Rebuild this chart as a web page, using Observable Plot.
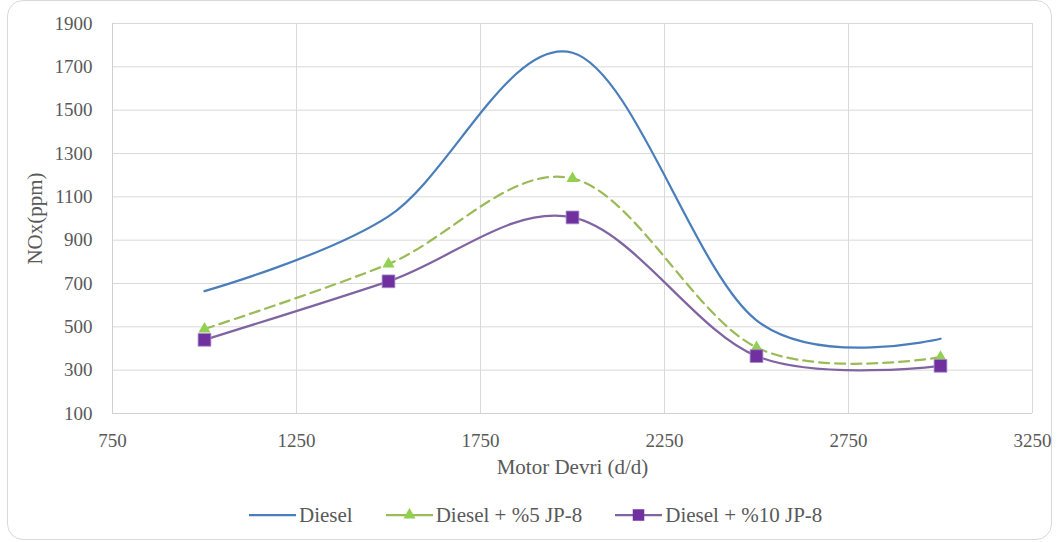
<!DOCTYPE html>
<html>
<head>
<meta charset="utf-8">
<script src="https://cdn.jsdelivr.net/npm/d3@7"></script>
<script src="https://cdn.jsdelivr.net/npm/@observablehq/plot@0.6"></script>
<style>
  html, body { margin: 0; padding: 0; background: #fff; }
  #wrap { position: relative; width: 1059px; height: 542px; overflow: hidden; font-family: "Liberation Serif", Tinos, "Times New Roman", "DejaVu Serif", serif; }
  #frame { position: absolute; left: 7px; top: 0px; border: 1.5px solid #d9d9d9; border-radius: 16px; box-sizing: border-box; width: 1045px; height: 540px; }
  #chart { position: absolute; left: 0; top: 0; }
  #chart svg text { font-family: "Liberation Serif", Tinos, "Times New Roman", "DejaVu Serif", serif; }
  #legend { position: absolute; left: 249px; top: 502px; height: 26px; display: flex; align-items: center; gap: 33px; font-size: 21px; color: #595959; white-space: nowrap; font-family: "Liberation Serif", Tinos, "Times New Roman", "DejaVu Serif", serif; }
  .item { display: flex; align-items: center; gap: 3px; }
  .item svg { display: block; }
</style>
</head>
<body>
<div id="wrap">
  <div id="frame"></div>
  <div id="chart"></div>
  <div id="legend"></div>
</div>
<script>
// Data
const rpm = [1000, 1500, 2000, 2500, 3000];
const diesel = [665, 1010, 1765, 530, 445];
const jp5 = [490, 790, 1185, 405, 360];
const jp10 = [440, 710, 1005, 365, 320];
const seriesNames = ["Diesel", "Diesel + %5 JP-8", "Diesel + %10 JP-8"];
const xTicks = [750, 1250, 1750, 2250, 2750, 3250];
const yTicks = [100, 300, 500, 700, 900, 1100, 1300, 1500, 1700, 1900];

const colors = { line0: "#4a7ebb", line1: "#9bbb59", line2: "#8064a2", mark1: "#92d050", mark2: "#7030a0" };
const serif = "'Liberation Serif', Tinos, 'Times New Roman', 'DejaVu Serif', serif";

const d0 = rpm.map((x, i) => ({ x, y: diesel[i] }));
const d1 = rpm.map((x, i) => ({ x, y: jp5[i] }));
const d2 = rpm.map((x, i) => ({ x, y: jp10[i] }));

const plot = Plot.plot({
  width: 1059,
  height: 490,
  marginLeft: 112,
  marginRight: 27,
  marginTop: 23,
  marginBottom: 77,
  style: { fontFamily: serif, fontSize: "19px", color: "#595959", background: "transparent", overflow: "visible" },
  x: { domain: [750, 3250] },
  y: { domain: [100, 1900] },
  marks: [
    Plot.gridX(xTicks, { stroke: "#d9d9d9", strokeOpacity: 1, strokeWidth: 1 }),
    Plot.gridY(yTicks, { stroke: "#d9d9d9", strokeOpacity: 1, strokeWidth: 1 }),
    Plot.ruleX([750], { stroke: "#d0d0d0", strokeWidth: 1 }),
    Plot.ruleY([100], { stroke: "#d0d0d0", strokeWidth: 1 }),
    Plot.axisX({ ticks: xTicks, tickFormat: d => String(d), tickSize: 0, tickPadding: 20, label: null, fill: "#595959", fontFamily: serif }),
    Plot.axisY({ ticks: yTicks, tickFormat: d => String(d), tickSize: 0, tickPadding: 20, label: null, fill: "#595959", fontFamily: serif }),
    Plot.text(["NOx(ppm)"], { frameAnchor: "left", textAnchor: "middle", lineAnchor: "middle", dx: -77, rotate: -90, fontSize: 21, fill: "#595959", fontFamily: serif }),
    Plot.text(["Motor Devri (d/d)"], { frameAnchor: "bottom", textAnchor: "middle", lineAnchor: "middle", dy: 54, fontSize: 21, fill: "#595959", fontFamily: serif }),
    Plot.line(d0, { x: "x", y: "y", curve: "cardinal", stroke: colors.line0, strokeWidth: 2.25 }),
    Plot.line(d1, { x: "x", y: "y", curve: "cardinal", stroke: colors.line1, strokeWidth: 2.25, strokeDasharray: "10,6" }),
    Plot.line(d2, { x: "x", y: "y", curve: "cardinal", stroke: colors.line2, strokeWidth: 2.25 }),
    Plot.dot(d1, { x: "x", y: "y", symbol: "triangle", r: 4.5, fill: colors.mark1, stroke: "none" }),
    Plot.dot(d2, { x: "x", y: "y", symbol: "square", r: 7.2, fill: colors.mark2, stroke: "#a58bc7", strokeWidth: 0.8 })
  ]
});
document.getElementById("chart").appendChild(plot);

// Legend
const legend = document.getElementById("legend");
const legendSpecs = [
  { name: seriesNames[0], line: colors.line0, marker: null },
  { name: seriesNames[1], line: colors.line1, marker: "triangle", fill: colors.mark1 },
  { name: seriesNames[2], line: colors.line2, marker: "square", fill: colors.mark2 }
];
for (const s of legendSpecs) {
  const item = document.createElement("div");
  item.className = "item";
  const ns = "http://www.w3.org/2000/svg";
  const svg = document.createElementNS(ns, "svg");
  svg.setAttribute("width", 47);
  svg.setAttribute("height", 16);
  const ln = document.createElementNS(ns, "line");
  ln.setAttribute("x1", 0); ln.setAttribute("x2", 47);
  ln.setAttribute("y1", 8); ln.setAttribute("y2", 8);
  ln.setAttribute("stroke", s.line); ln.setAttribute("stroke-width", 2.25);
  svg.appendChild(ln);
  if (s.marker) {
    const p = document.createElementNS(ns, "path");
    const sym = s.marker === "triangle" ? d3.symbolTriangle : d3.symbolSquare;
    const r = s.marker === "triangle" ? 4.5 : 6.5;
    p.setAttribute("d", d3.symbol(sym, Math.PI * r * r)());
    p.setAttribute("transform", "translate(23.5,8)");
    p.setAttribute("fill", s.fill);
    svg.appendChild(p);
  }
  item.appendChild(svg);
  const t = document.createElement("span");
  t.textContent = s.name;
  item.appendChild(t);
  legend.appendChild(item);
}
</script>
</body>
</html>
